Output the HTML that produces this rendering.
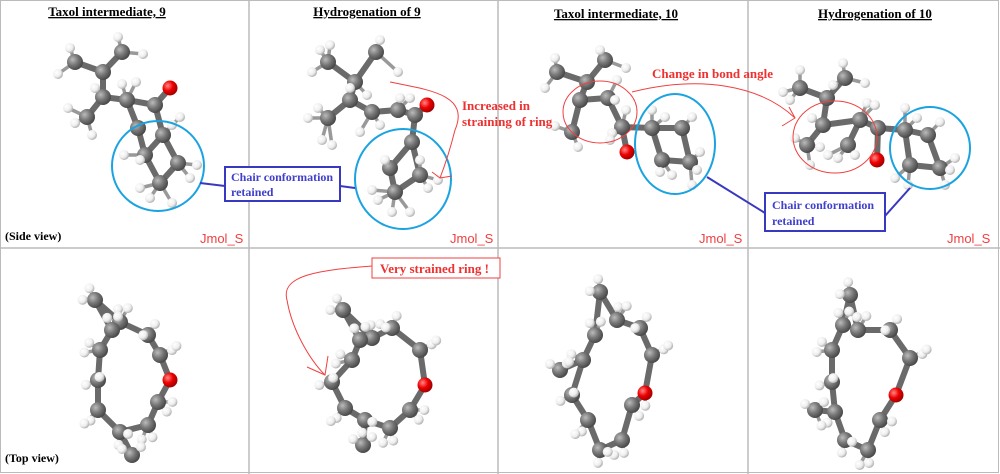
<!DOCTYPE html>
<html><head><meta charset="utf-8"><style>
body{margin:0;background:#fff;width:1000px;height:474px;overflow:hidden}
svg{display:block}
.t{font-family:"Liberation Serif",serif;font-weight:bold;font-size:13px;text-decoration:underline;fill:#000}
.j{font-family:"Liberation Sans",sans-serif;font-size:13px;fill:#f04040}
.b{font-family:"Liberation Serif",serif;font-weight:bold;font-size:12px;fill:#4040cc}
.r{font-family:"Liberation Serif",serif;font-weight:bold;font-size:13px;fill:#ee3030}
.s{font-family:"Liberation Serif",serif;font-weight:bold;font-size:12px;fill:#000}
</style></head><body>
<svg id="s" width="1000" height="474" viewBox="0 0 1000 474" xmlns="http://www.w3.org/2000/svg">
<defs>
<radialGradient id="gc" cx="35%" cy="35%" r="70%"><stop offset="0" stop-color="#bbb"/><stop offset="0.5" stop-color="#777"/><stop offset="1" stop-color="#444"/></radialGradient>
<radialGradient id="gh" cx="35%" cy="35%" r="70%"><stop offset="0" stop-color="#fff"/><stop offset="0.6" stop-color="#eee"/><stop offset="1" stop-color="#aaa"/></radialGradient>
<radialGradient id="go" cx="35%" cy="35%" r="70%"><stop offset="0" stop-color="#f88"/><stop offset="0.5" stop-color="#e00"/><stop offset="1" stop-color="#900"/></radialGradient>
</defs>
<rect x="0.5" y="0.5" width="998" height="472" fill="#fff" stroke="#bbb"/>
<line x1="249" y1="0" x2="249" y2="474" stroke="#bbb" stroke-width="1.5"/>
<line x1="498" y1="0" x2="498" y2="474" stroke="#bbb" stroke-width="1.5"/>
<line x1="748" y1="0" x2="748" y2="474" stroke="#bbb" stroke-width="1.5"/>
<line x1="0" y1="248" x2="1000" y2="248" stroke="#bbb" stroke-width="1.5"/>
<g id="mol"></g>
<text class="t" x="107" y="16" text-anchor="middle">Taxol intermediate, 9</text>
<text class="t" x="367" y="16" text-anchor="middle">Hydrogenation of 9</text>
<text class="t" x="616" y="18" text-anchor="middle">Taxol intermediate, 10</text>
<text class="t" x="875" y="18" text-anchor="middle">Hydrogenation of 10</text>
<text class="s" x="5" y="240">(Side view)</text>
<text class="s" x="5" y="462">(Top view)</text>
<text class="j" x="200" y="243">Jmol_S</text>
<text class="j" x="450" y="243">Jmol_S</text>
<text class="j" x="699" y="243">Jmol_S</text>
<text class="j" x="947" y="243">Jmol_S</text>
<g fill="none" stroke="#1aa3e0" stroke-width="2">
<ellipse cx="158" cy="166" rx="46" ry="45"/>
<ellipse cx="403" cy="179" rx="48" ry="50"/>
<ellipse cx="675" cy="144" rx="40" ry="50"/>
<ellipse cx="930" cy="148" rx="40" ry="41"/>
</g>
<g stroke="#3838c0" stroke-width="2" fill="none">
<line x1="200" y1="183" x2="225" y2="186"/>
<line x1="340" y1="186" x2="355" y2="188"/>
<line x1="707" y1="177" x2="765" y2="213"/>
<line x1="885" y1="216" x2="910" y2="188"/>
<rect x="225" y="167" width="115" height="34" fill="#fff"/>
<rect x="765" y="193" width="120" height="38" fill="#fff"/>
</g>
<text class="b" x="231" y="181">Chair conformation</text>
<text class="b" x="231" y="196">retained</text>
<text class="b" x="772" y="209">Chair conformation</text>
<text class="b" x="772" y="225">retained</text>
<g fill="none" stroke="#f04040" stroke-width="1">
<path d="M390 82 C430 90,470 95,455 130 C450 150,445 165,440 178"/>
<path d="M432 172 L440 178 L452 176"/>
<ellipse cx="600" cy="112" rx="37" ry="31"/>
<ellipse cx="835" cy="137" rx="42" ry="36"/>
<path d="M632 92 C700 75,760 85,795 118"/>
<path d="M789 107 L795 118 L782 126"/>
<path d="M372 266 C320 270,280 275,287 300 C292 330,310 360,325 375"/>
<path d="M328 356 L325 375 L307 367"/>
</g>
<text class="r" x="462" y="110">Increased in</text>
<text class="r" x="462" y="126">straining of ring</text>
<text class="r" x="652" y="78">Change in bond angle</text>
<rect x="372" y="258" width="128" height="20" fill="#fff" stroke="#f04040"/>
<text class="r" x="380" y="273">Very strained ring !</text>
</svg>
<script>
var g=document.getElementById('mol'),NS='http://www.w3.org/2000/svg';
function el(n,a){var e=document.createElementNS(NS,n);for(var k in a)e.setAttribute(k,a[k]);g.appendChild(e);return e}
function mol(C,B,H,oi){
 B.forEach(function(b){el('line',{x1:C[b[0]][0],y1:C[b[0]][1],x2:C[b[1]][0],y2:C[b[1]][1],stroke:'#6a6a6a','stroke-width':6,'stroke-linecap':'round'})});
 H.forEach(function(h){var bi=0,bd=1e9;C.forEach(function(c,i){var d=(c[0]-h[0])*(c[0]-h[0])+(c[1]-h[1])*(c[1]-h[1]);if(d<bd){bd=d;bi=i}});el('line',{x1:h[0],y1:h[1],x2:C[bi][0],y2:C[bi][1],stroke:'#999','stroke-width':3.5})});
 C.forEach(function(c,i){el('circle',{cx:c[0],cy:c[1],r:i===oi?7.5:8,fill:i===oi?'url(#go)':'url(#gc)'})});
 H.forEach(function(h){el('circle',{cx:h[0],cy:h[1],r:5,fill:'url(#gh)'})});
}
function loop(P,oi,extra){
 var cx=0,cy=0;P.forEach(function(p){cx+=p[0];cy+=p[1]});cx/=P.length;cy/=P.length;
 var B=[];for(var i=0;i<P.length;i++)B.push([i,(i+1)%P.length]);
 var H=[];P.forEach(function(p,i){if(i===oi)return;var dx=p[0]-cx,dy=p[1]-cy,l=Math.hypot(dx,dy)||1;
  H.push([p[0]+dx/l*13,p[1]+dy/l*13]);H.push([p[0]+dx/l*8+(i%2?9:-9),p[1]+dy/l*8+(i%2?-6:7)]);});
 var C=P.slice();
 if(extra){extra.forEach(function(e){C.push(e[0]);B.push([e[1],C.length-1]);H.push([e[0][0]-10,e[0][1]-6]);H.push([e[0][0]+9,e[0][1]-8])})}
 mol(C,B,H,oi);
}
mol([[75,62],[122,52],[103,72],[103,97],[127,100],[155,105],[87,117],[163,135],[145,155],[160,183],[178,163],[170,88],[138,128]],
 [[0,2],[1,2],[2,3],[3,4],[3,6],[4,5],[5,11],[5,7],[4,12],[12,8],[7,8],[8,9],[9,10],[10,7]],
 [[70,48],[58,74],[118,37],[143,54],[122,84],[136,82],[68,108],[75,123],[92,135],[180,117],[172,125],[124,155],[140,160],[197,165],[190,178],[140,188],[150,198],[172,203],[95,88]],11);
mol([[328,62],[376,52],[355,82],[350,100],[328,118],[372,112],[398,110],[415,115],[412,142],[390,168],[395,192],[420,175],[427,105]],
 [[0,2],[1,2],[2,3],[3,4],[3,5],[5,6],[6,7],[7,12],[7,8],[8,9],[9,10],[10,11],[11,8]],
 [[320,50],[312,72],[330,45],[380,40],[398,72],[318,108],[308,118],[322,140],[332,145],[360,132],[380,125],[367,95],[400,98],[385,160],[372,190],[378,200],[392,212],[410,212],[420,160],[438,180],[428,188],[410,98],[350,88]],12);
mol([[557,72],[605,60],[587,82],[580,100],[608,98],[572,132],[622,127],[652,128],[682,128],[690,162],[662,160],[627,152]],
 [[0,2],[1,2],[2,3],[3,4],[3,5],[4,6],[6,7],[6,11],[7,8],[8,9],[9,10],[10,7]],
 [[555,58],[545,88],[600,50],[626,68],[617,80],[555,126],[578,147],[626,110],[615,100],[652,110],[665,117],[692,117],[660,172],[672,175],[700,152],[697,170],[692,185],[612,133],[610,140]],11);
mol([[800,88],[845,78],[827,98],[823,125],[807,145],[860,120],[848,145],[878,128],[905,130],[928,135],[940,168],[910,165],[877,160]],
 [[0,2],[1,2],[2,3],[3,4],[3,5],[5,6],[5,7],[7,12],[7,8],[8,9],[9,10],[10,11],[11,8]],
 [[790,100],[783,92],[800,70],[843,63],[865,83],[812,118],[820,147],[795,138],[810,165],[828,155],[838,158],[855,155],[867,103],[875,105],[905,108],[917,118],[940,122],[955,158],[950,170],[895,178],[908,185],[945,185],[833,85]],12);
loop([[95,300],[120,322],[148,335],[160,355],[170,380],[158,402],[148,425],[120,432],[98,410],[98,380],[100,350],[112,330]],4,[[[132,455],7]]);
loop([[343,310],[372,338],[392,328],[420,350],[425,385],[410,410],[390,428],[365,420],[345,408],[332,382],[352,360],[360,340]],4,[[[363,445],7]]);
loop([[600,292],[617,320],[640,328],[652,355],[645,393],[632,405],[622,440],[600,450],[588,420],[572,395],[583,360],[595,335]],4,[[[560,370],10]]);
loop([[850,295],[858,330],[890,330],[910,358],[896,395],[880,420],[868,450],[845,440],[835,412],[832,382],[832,350],[843,325]],4,[[[815,410],8]]);
</script>
</body></html>
